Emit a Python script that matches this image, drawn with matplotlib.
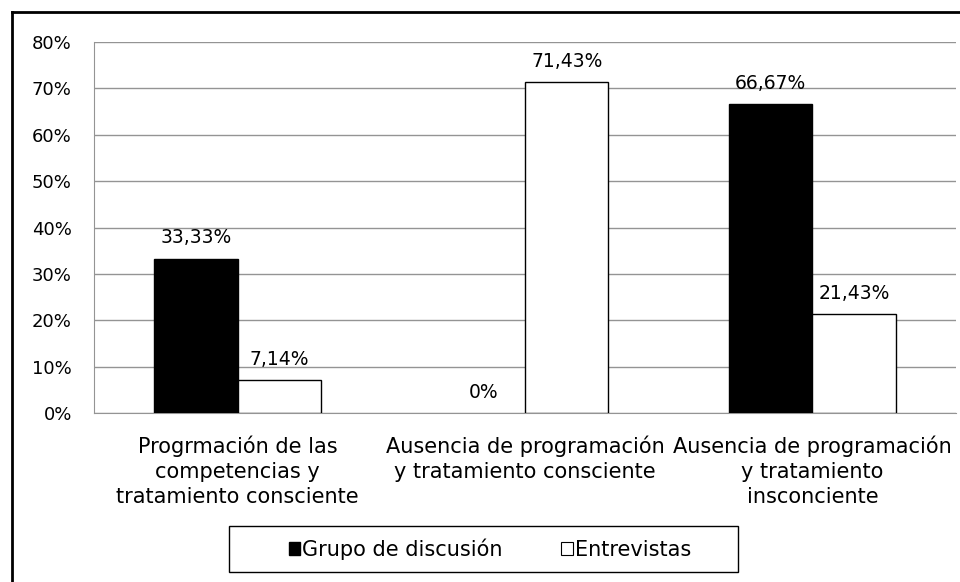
import numpy as np
import matplotlib.pyplot as plt
from matplotlib.lines import Line2D
from matplotlib.patches import Patch, Rectangle

categories = ['Progrmación de las\ncompetencias y\ntratamiento consciente',
              'Ausencia de programación\ny tratamiento consciente',
              'Ausencia de programación\ny tratamiento\ninsconciente']
grupo = [33.33, 0.0, 66.67]
entrevistas = [7.14, 71.43, 21.43]
grupo_labels = ['33,33%', '0%', '66,67%']
entrevistas_labels = ['7,14%', '71,43%', '21,43%']
yticks = [0, 10, 20, 30, 40, 50, 60, 70, 80]

plt.rcParams['font.family'] = 'DejaVu Sans'

fig = plt.figure(figsize=(9.6, 5.82), dpi=100)
ax = fig.add_axes([0.098, 0.290, 0.898, 0.638])

x = np.arange(len(categories))
w = 0.29
b1 = ax.bar(x - w / 2, grupo, w, color='black', edgecolor='black', linewidth=1, zorder=3)
b2 = ax.bar(x + w / 2, entrevistas, w, color='white', edgecolor='black', linewidth=1, zorder=3)

# zero-height bars show no outline
for rect in list(b1) + list(b2):
    if rect.get_height() == 0:
        rect.set_linewidth(0)

for rect, lab in zip(b1, grupo_labels):
    ax.annotate(lab, (rect.get_x() + rect.get_width() / 2, rect.get_height()),
                xytext=(0, 8), textcoords='offset points', ha='center', va='bottom',
                fontsize=13.5)
for rect, lab in zip(b2, entrevistas_labels):
    ax.annotate(lab, (rect.get_x() + rect.get_width() / 2, rect.get_height()),
                xytext=(0, 8), textcoords='offset points', ha='center', va='bottom',
                fontsize=13.5)

ax.set_xlim(-0.5, 2.5)
ax.set_ylim(0, 80)
ax.set_yticks(yticks)
ax.set_yticklabels([f'{t}%' for t in yticks], fontsize=13)
ax.set_xticks(x)
ax.set_xticklabels(categories, fontsize=15, linespacing=1.3)
ax.tick_params(axis='both', length=0)
ax.tick_params(axis='y', pad=16)
ax.tick_params(axis='x', pad=16)

ax.grid(axis='y', color='#949494', linewidth=1, zorder=0)
for s in ['top', 'right']:
    ax.spines[s].set_visible(False)
ax.spines['left'].set_color('#949494')
ax.spines['bottom'].set_color('#949494')

handles = [Patch(facecolor='black', edgecolor='black'),
           Patch(facecolor='white', edgecolor='black', linewidth=0.8)]
leg = fig.legend(handles, ['Grupo de discusión', 'Entrevistas'], loc='center',
                 bbox_to_anchor=(490 / 960, 1 - 549 / 582), ncol=2, fontsize=15,
                 frameon=False, handlelength=0.55, handleheight=0.55,
                 handletextpad=0.1, columnspacing=2.8, borderpad=0)

# legend box
fig.add_artist(Rectangle((229 / 960, 1 - 572 / 582), 509 / 960, 46 / 582,
                         transform=fig.transFigure, facecolor='none',
                         edgecolor='black', linewidth=1))

# outer frame (left and top edges visible)
fig.add_artist(Line2D([11.5 / 960, 11.5 / 960], [0, 1 - 12 / 582], color='black', linewidth=2))
fig.add_artist(Line2D([11.5 / 960, 1], [1 - 12 / 582, 1 - 12 / 582], color='black', linewidth=2))

fig.savefig('out.png', dpi=100)
